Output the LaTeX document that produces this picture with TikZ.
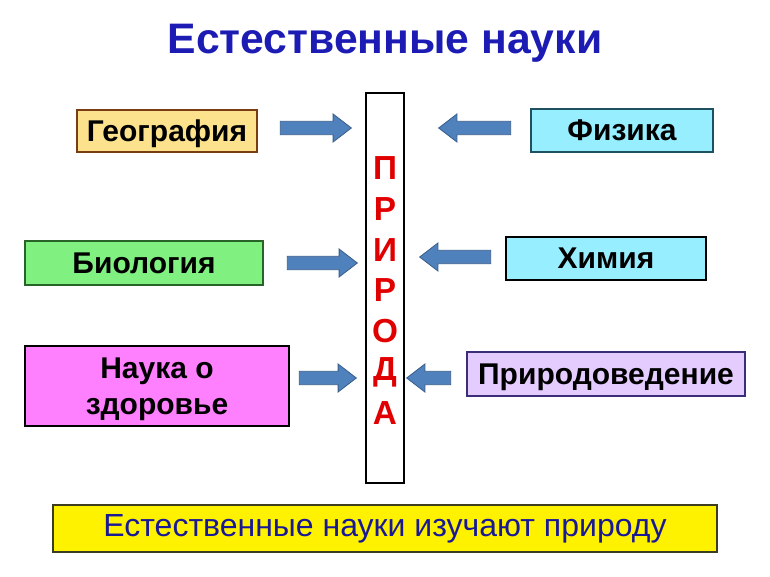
\documentclass[tikz,border=0pt]{standalone}
\usepackage{fontspec}
\setmainfont{Liberation Sans}
\usetikzlibrary{shapes.arrows}
\definecolor{titleblue}{RGB}{28,28,180}
\definecolor{geofill}{RGB}{252,226,140}
\definecolor{geoline}{RGB}{122,60,18}
\definecolor{cyanfill}{RGB}{150,238,255}
\definecolor{cyanline}{RGB}{30,80,95}
\definecolor{biofill}{RGB}{128,240,128}
\definecolor{bioline}{RGB}{40,100,40}
\definecolor{pinkfill}{RGB}{255,128,255}
\definecolor{lilacfill}{RGB}{228,204,255}
\definecolor{lilacline}{RGB}{60,45,120}
\definecolor{bottomline}{RGB}{60,60,30}
\definecolor{bottomtext}{RGB}{25,25,150}
\definecolor{arrowblue}{RGB}{79,129,189}
\definecolor{arrowline}{RGB}{56,93,138}
\definecolor{letterred}{RGB}{225,0,0}
\newcommand{\px}{0.75pt}
\begin{document}
\begin{tikzpicture}[
        x=0.75pt, y=-0.75pt,
        box/.style={draw, line width=2pt, align=center, inner sep=0pt, text depth=0pt,
            font=\bfseries\fontsize{22.5}{27}\selectfont},
        blockarrow/.style={single arrow, draw=arrowline, fill=arrowblue, line width=0.6pt,
            inner sep=4.7pt, single arrow head extend=5.5pt, single arrow tip angle=75},
        toleft/.style={blockarrow, shape border rotate=180}
    ]
        \useasboundingbox (0,0) rectangle (770,577);
        \node[font=\bfseries\fontsize{32}{38}\selectfont, text=titleblue] (title) at (385,43) {Естественные науки};

        % central column
        \node[draw, line width=2pt, minimum width=38*\px, minimum height=390*\px] (priroda) at (385,288) {};
        \foreach \ch [count=\i] in {П,Р,И,Р,О,Д,А}
            \node[text=letterred, font=\bfseries\fontsize{25}{30}\selectfont] (p\i) at (385,{168+40.8*(\i-1)}) {\ch};

        % left side
        \node[box, fill=geofill, draw=geoline, minimum width=180*\px, minimum height=42*\px] (geo) at (167,131) {География};
        \node[box, fill=biofill, draw=bioline, minimum width=238*\px, minimum height=44*\px] (bio) at (144,263) {Биология};
        \node[box, fill=pinkfill, minimum width=264*\px, minimum height=80*\px] (health) at (157,386) {Наука о\\здоровье};

        % right side
        \node[box, fill=cyanfill, draw=cyanline, minimum width=182*\px, minimum height=43*\px] (phys) at (622,130.5) {Физика};
        \node[box, fill=cyanfill, minimum width=200*\px, minimum height=43*\px] (chem) at (606,258.5) {Химия};
        \node[box, fill=lilacfill, draw=lilacline, minimum width=278*\px, minimum height=44*\px] (nature) at (606,374) {Природоведение};

        % arrows
        \node[blockarrow, minimum height=71*\px] (geoarrow) at (311.5,128) {};
        \node[blockarrow, minimum height=70*\px] (bioarrow) at (318,263) {};
        \node[blockarrow, minimum height=57*\px] (healtharrow) at (323.5,378) {};
        \node[toleft, minimum height=72*\px] (physarrow) at (479,128) {};
        \node[toleft, minimum height=71*\px] (chemarrow) at (459.5,257) {};
        \node[toleft, minimum height=44*\px] (naturearrow) at (433,378) {};

        \node[draw=bottomline, fill=yellow, line width=2pt, minimum width=664*\px, minimum height=47*\px,
            text=bottomtext, font=\fontsize{24}{28}\selectfont] (summary) at (385,528.5) {Естественные науки изучают природу};
    \end{tikzpicture}
\end{document}
